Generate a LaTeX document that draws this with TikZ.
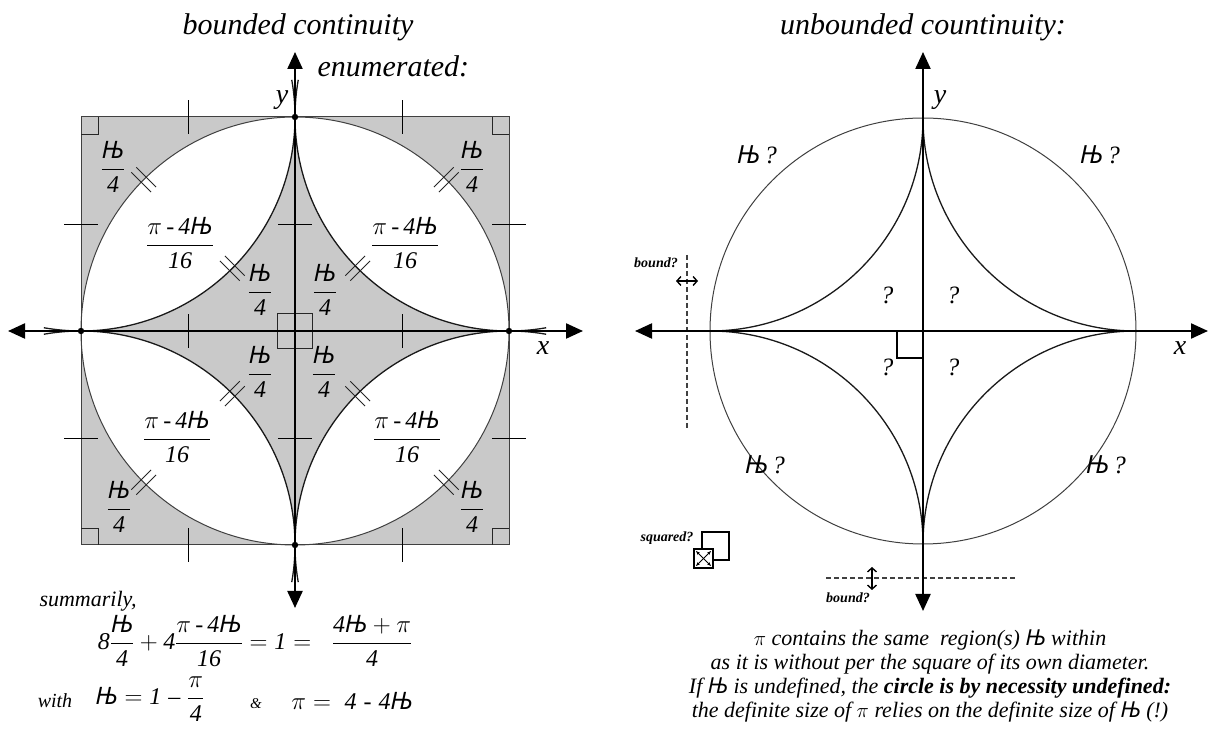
\documentclass[tikz,border=0pt]{standalone}
\usepackage{amsmath}
\usepackage{fontspec}
\setmainfont{Liberation Serif}
\newfontfamily\njfont{Noto Sans}
\usetikzlibrary{arrows.meta, positioning, calc}

\newcommand\nj{\mbox{\njfont\itshape Њ}}
\newcommand\dig[1]{\mbox{\itshape #1}}
\newcommand\fr[2]{$\dfrac{#1}{#2}$}

\tikzset{
    axisline/.style={{Triangle[length=17pt,width=15pt]}-{Triangle[length=17pt,width=15pt]}, line width=2.2pt},
    circline/.style={line width=1pt, black!75},
    arcline/.style={line width=1.3pt, black!90},
    edgeline/.style={line width=1pt, black!75},
    tickline/.style={line width=0.9pt},
    markline/.style={line width=0.9pt, black!85},
    greyfill/.style={fill=black!21},
    dashline/.style={dash pattern=on 5pt off 3pt, line width=1.5pt, black!75},
    barb/.style={{Straight Barb[length=4pt,width=9pt]}-{Straight Barb[length=4pt,width=9pt]}, line width=1.4pt},
    frac/.style={font=\fontsize{24}{28}\selectfont\itshape, inner sep=1pt},
    title/.style={font=\fontsize{30}{34}\selectfont\itshape},
    axlabel/.style={font=\fontsize{28}{32}\selectfont\itshape},
    qmark/.style={font=\fontsize{25}{28}\selectfont\itshape},
    small/.style={font=\fontsize{14}{16}\selectfont\bfseries\itshape},
    body/.style={font=\fontsize{22}{24}\selectfont\itshape},
    hashmark/.pic={\draw[markline] (-14,-3.5) -- (14,-3.5) (-14,3.5) -- (14,3.5);},
}

\begin{document}
\begin{tikzpicture}[x=1pt, y=1pt]
    \useasboundingbox (0,0) rectangle (1215,728);

    % Titles
    \node[title] (lefttitle) at (298,701) {bounded continuity};
    \node[title, anchor=west] (enum) at (314,662) {enumerated:};
    \node[title] (righttitle) at (923,701) {unbounded countinuity:};

    % Left figure: bounded
    \begin{scope}[shift={(295,397)}]
        \fill[greyfill] (-214,-214) rectangle (214,214);
        \fill[white] (0,0) circle (214);
        \fill[greyfill] (214,0) arc[start angle=270, end angle=180, radius=214]
            arc[start angle=0, end angle=-90, radius=214]
            arc[start angle=90, end angle=0, radius=214]
            arc[start angle=180, end angle=90, radius=214] -- cycle;
        \draw[edgeline] (-214,-214) rectangle (214,214);
        \draw[circline] (0,0) circle (214);

        % corner arcs, a little past the axes
        \draw[arcline] (214,214) ++(280:214) arc[start angle=280, end angle=170, radius=214];
        \draw[arcline] (-214,214) ++(10:214) arc[start angle=10, end angle=-100, radius=214];
        \draw[arcline] (-214,-214) ++(100:214) arc[start angle=100, end angle=-10, radius=214];
        \draw[arcline] (214,-214) ++(190:214) arc[start angle=190, end angle=80, radius=214];

        % ticks
        \foreach \p in {(-107,214),(107,214),(-107,0),(107,0),(-107,-214),(107,-214)}
            \draw[tickline] \p ++(0,-17) -- ++(0,34);
        \foreach \p in {(-214,107),(0,107),(214,107),(-214,-107),(0,-107),(214,-107)}
            \draw[tickline] \p ++(-17,0) -- ++(34,0);

        % right angles
        \draw[markline] (-214,197) -| (-197,214);
        \draw[markline] (214,197) -| (197,214);
        \draw[markline] (-214,-197) -| (-197,-214);
        \draw[markline] (214,-197) -| (197,-214);
        \draw[markline] (-17.5,-17.5) rectangle (17.5,17.5);

        % equal parts
        \foreach \a in {45,135,225,315} {
            \pic[rotate=\a] at (\a:214) {hashmark};
            \pic[rotate=\a] at (\a:88.6) {hashmark};
        }

        % axes
        \coordinate (Lw) at (-287,0);
        \coordinate (Le) at (288,0);
        \coordinate (Ls) at (0,-277);
        \coordinate (Ln) at (0,279);
        \draw[axisline] (Lw) -- (Le);
        \draw[axisline] (Ls) -- (Ln);
        \foreach \p in {(214,0),(-214,0),(0,214),(0,-214)}
            \fill \p circle (3.2);
        \node[axlabel] (ly) at (-13,231) {y};
        \node[axlabel] (lx) at (248,-17) {x};

        % regions
        \node[frac] (lcul) at (-182,164) {\fr{\nj}{\dig4}};
        \node[frac] (lcur) at (177,164) {\fr{\nj}{\dig4}};
        \node[frac] (lcll) at (-176,-176) {\fr{\nj}{\dig4}};
        \node[frac] (lclr) at (177,-176) {\fr{\nj}{\dig4}};
        \node[frac] (lwul) at (-115,88) {\fr{\pi\,\text{-}\,\dig4\nj}{\dig{16}}};
        \node[frac] (lwur) at (110,88) {\fr{\pi\,\text{-}\,\dig4\nj}{\dig{16}}};
        \node[frac] (lwll) at (-118,-106) {\fr{\pi\,\text{-}\,\dig4\nj}{\dig{16}}};
        \node[frac] (lwlr) at (112,-106) {\fr{\pi\,\text{-}\,\dig4\nj}{\dig{16}}};
        \node[frac] (liul) at (-35,41) {\fr{\nj}{\dig4}};
        \node[frac] (liur) at (30,41) {\fr{\nj}{\dig4}};
        \node[frac] (lill) at (-35,-41) {\fr{\nj}{\dig4}};
        \node[frac] (lilr) at (29,-41) {\fr{\nj}{\dig4}};
    \end{scope}

    % Sums
    \node[body, anchor=west] (summ) at (36,127) {summarily,};
    \node[frac] (sumeq) at (255,87) {$\dig8\dfrac{\nj}{\dig4} + \dig4\dfrac{\pi\,\text{-}\,\dig4\nj}{\dig{16}} = \dig1 = \;\;\dfrac{\dig4\nj + \pi}{\dig4}$};
    \node[font=\fontsize{20}{24}\selectfont\itshape] (with) at (55,27) {with};
    \node[frac] (njdef) at (150,29) {$\nj = \dig1\;\text{–}\;\dfrac{\pi}{\dig4}$};
    \node[font=\fontsize{15}{18}\selectfont\itshape] (amp) at (256,24) {\&};
    \node[frac] (pidef) at (352,27) {$\pi = \;\dig4\;\text{-}\;\dig4\nj$};

    % Right figure: unbounded
    \begin{scope}[shift={(923,397)}]
        \draw[circline] (0,0) circle (213);
        \draw[arcline] (213,0) arc[start angle=270, end angle=180, radius=213]
            arc[start angle=0, end angle=-90, radius=213]
            arc[start angle=90, end angle=0, radius=213]
            arc[start angle=180, end angle=90, radius=213];

        % bounds
        \draw[dashline] (-236,76) -- (-236,-97);
        \draw[dashline] (-97,-247) -- (93,-247);
        \draw[barb] (-247,50) -- (-225,50);
        \draw[barb] (-51,-236) -- (-51,-259);
        \node[small] (bndw) at (-267,68) {bound?};
        \node[small] (bnds) at (-75,-267) {bound?};

        % squared
        \draw[line width=1.5pt] (-221,-229) rectangle (-194,-201);
        \draw[line width=2.2pt, fill=white] (-229,-237) rectangle (-210,-218);
        \draw[{Stealth[length=4pt]}-{Stealth[length=4pt]}, line width=1pt] (-227,-235) -- (-212,-220);
        \draw[{Stealth[length=4pt]}-{Stealth[length=4pt]}, line width=1pt] (-227,-220) -- (-212,-235);
        \node[small] (sqr) at (-256,-207) {squared?};

        % axes
        \coordinate (Rw) at (-288,0);
        \coordinate (Re) at (285,0);
        \coordinate (Rs) at (0,-280);
        \coordinate (Rn) at (0,279);
        \draw[axisline] (Rw) -- (Re);
        \draw[axisline] (Rs) -- (Rn);
        \draw[line width=1.8pt] (-26,0) |- (0,-27);
        \node[axlabel] (ry) at (17,231) {y};
        \node[axlabel] (rx) at (257,-17) {x};

        % regions
        \node[qmark] (qul) at (-36,36) {?};
        \node[qmark] (qur) at (30,36) {?};
        \node[qmark] (qll) at (-36,-36) {?};
        \node[qmark] (qlr) at (30,-36) {?};
        \node[qmark] (nul) at (-166,176) {\nj\,?};
        \node[qmark] (nur) at (177,176) {\nj\,?};
        \node[qmark] (nll) at (-158,-134) {\nj\,?};
        \node[qmark] (nlr) at (183,-134) {\nj\,?};
    \end{scope}

    % Caption
    \node[body, align=center] (caption) at (930,52) {$\pi$ contains the same \ region(s) \nj\ within\\
        as it is without per the square of its own diameter.\\
        If \nj\ is undefined, the \textbf{circle is by necessity undefined:}\\
        the definite size of $\pi$ relies on the definite size of \nj\ (!)};
\end{tikzpicture}
\end{document}
